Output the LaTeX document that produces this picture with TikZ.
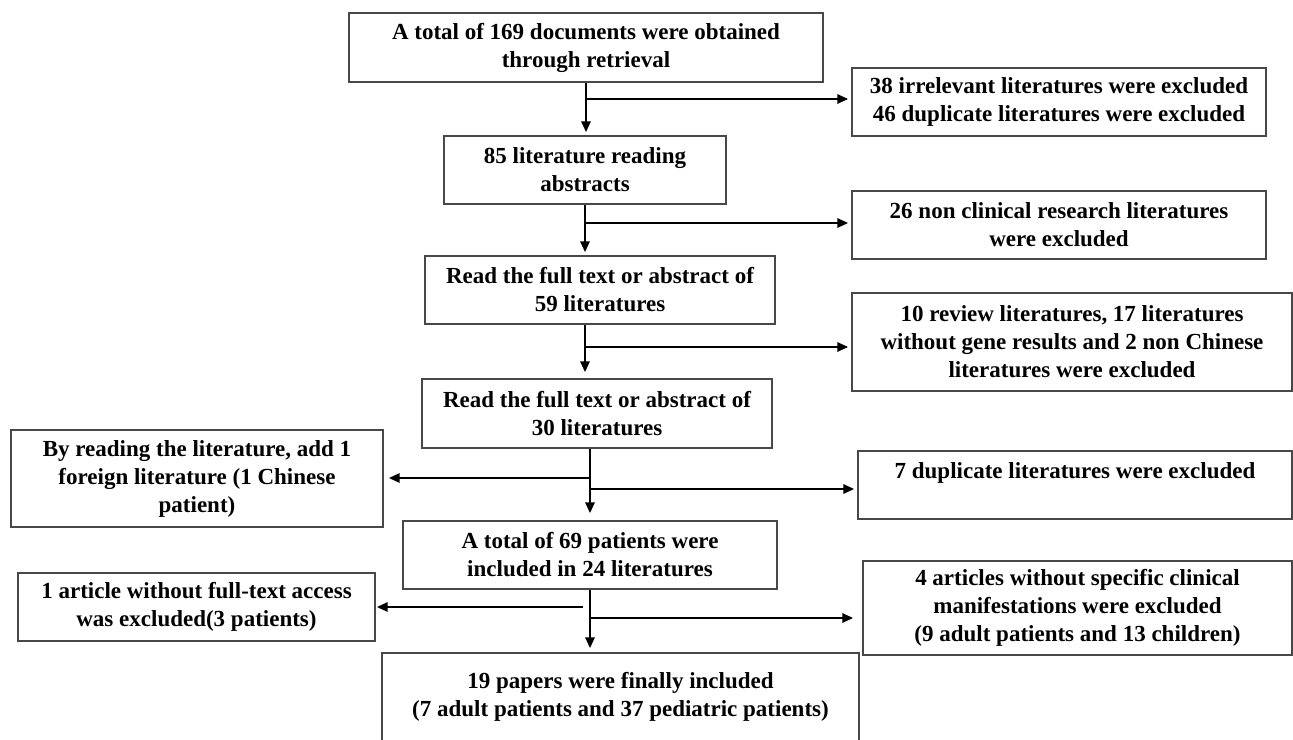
\documentclass[tikz,border=0pt]{standalone}
\usepackage{fontspec}
\setmainfont{Liberation Serif}
\usetikzlibrary{arrows.meta,calc}
\definecolor{boxb}{RGB}{72,72,72}
\tikzset{
  box/.style={draw=boxb,line width=1.3pt,inner sep=0pt,align=center,font=\bfseries\fontsize{23}{28}\selectfont},
  flow/.style={-{Triangle[length=11pt,width=9pt]},line width=2.7pt,shorten >=3pt},
}

\begin{document}
\begin{tikzpicture}[x=1pt,y=-1pt]
\useasboundingbox (0,0) rectangle (1293,739);
% ================= main column =================
\node[box,minimum width=474,minimum height=69] (total) at (586,47.5) {A total of 169 documents were obtained\\through retrieval};
\node[box,minimum width=282,minimum height=68] (abstr) at (585,170) {85 literature reading\\abstracts};
\node[box,minimum width=350,minimum height=68] (full1) at (600,290) {Read the full text or abstract of\\59 literatures};
\node[box,minimum width=350,minimum height=69] (full2) at (597,413.5) {Read the full text or abstract of\\30 literatures};
\node[box,minimum width=374,minimum height=68] (pat) at (590,555) {A total of 69 patients were\\included in 24 literatures};
\node[box,minimum width=477,minimum height=110] (final) at (620.5,708) {19 papers were finally included\\(7 adult patients and 37 pediatric patients)\\ \mbox{}};

% ================= side boxes =================
\node[box,minimum width=414,minimum height=68] (exA) at (1059,102) {38 irrelevant literatures were excluded\\46 duplicate literatures were excluded};
\node[box,minimum width=414,minimum height=68] (exB) at (1059,225) {26 non clinical research literatures\\were excluded};
\node[box,minimum width=440,minimum height=98] (exC) at (1072,342) {10 review literatures, 17 literatures\\without gene results and 2 non Chinese\\literatures were excluded};
\node[box,minimum width=372,minimum height=97] (exD) at (197,478.5) {By reading the literature, add 1\\foreign literature (1 Chinese\\patient)};
\node[box,minimum width=434,minimum height=68] (exE) at (1075,485) {7 duplicate literatures were excluded\\ \mbox{}};
\node[box,minimum width=357,minimum height=68] (exF) at (196.5,607) {1 article without full-text access\\was excluded(3 patients)};
\node[box,minimum width=429,minimum height=94] (exG) at (1077.5,608) {4 articles without specific clinical\\manifestations were excluded\\(9 adult patients and 13 children)};

% branch points on the spine
\coordinate (b1) at (586,99);
\coordinate (b2) at (586,223);
\coordinate (b3) at (586,347);
\coordinate (b4) at (589,478);
\coordinate (b5) at (589,489);
\coordinate (b6) at (583,607);
\coordinate (b7) at (589,618);

% spine
\draw[flow] (total.south) -- (total.south |- abstr.north);
\draw[flow] (abstr.south) -- (abstr.south |- full1.north);
\draw[flow,shorten >=6pt] (abstr.south |- full1.south) -- (abstr.south |- full2.north);
\draw[flow,shorten >=7pt] (pat.north |- full2.south) -- (pat.north);
\draw[flow,shorten >=4pt] (pat.south) -- (pat.south |- final.north);

% exclusions
\draw[flow] (b1) -- (b1 -| exA.west);
\draw[flow] (b2) -- (b2 -| exB.west);
\draw[flow] (b3) -- (b3 -| exC.west);
\draw[flow,shorten >=5pt] (b4) -- (b4 -| exD.east);
\draw[flow] (b5) -- (b5 -| exE.west);
\draw[flow,shorten >=1pt] (b6) -- (b6 -| exF.east);
\draw[flow,shorten >=9pt] (b7) -- (b7 -| exG.west);
\end{tikzpicture}
\end{document}
